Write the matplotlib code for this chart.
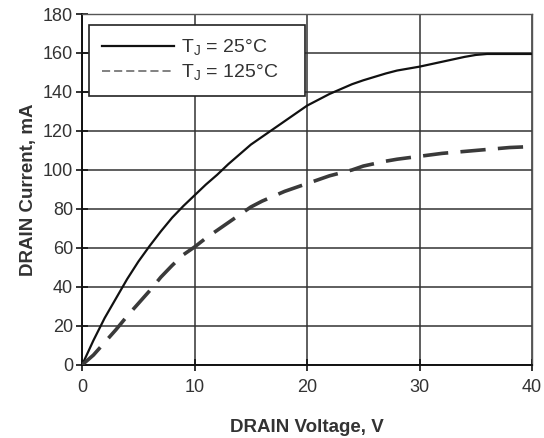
import numpy as np
import matplotlib.pyplot as plt

plt.rcParams['font.family'] = ['Liberation Sans', 'DejaVu Sans']
plt.rcParams['mathtext.fontset'] = 'custom'
plt.rcParams['mathtext.rm'] = 'Liberation Sans'

# Drain current vs drain voltage at two junction temperatures
v_25 = [0, 1, 2, 3, 4, 5, 6, 7, 8, 9, 10, 11, 12, 13, 14, 15, 17, 18, 20,
        22, 24, 25, 27, 28, 30, 32, 34, 35, 36, 38, 40]
i_25 = [0, 12.5, 24, 34, 44, 53, 61, 68.5, 75.5, 81.5, 87, 92.5, 97.5, 103, 108, 113, 121, 125, 133,
        139, 144, 146, 149.5, 151, 153, 155.5, 158, 159, 159.5, 159.5, 159.5]

v_125 = [0, 1, 2, 3, 4, 5, 6, 7, 8, 9, 10, 11, 12, 13, 14, 15, 16, 17, 18, 20,
         22, 24, 25, 27, 28, 30, 32, 34, 35, 37, 38, 40]
i_125 = [0, 5, 11.5, 18, 25, 31.5, 38, 45, 51, 56.5, 60.5, 65, 69, 73, 77, 81, 84, 86.5, 89, 93,
         97, 100, 102, 104.5, 105.5, 107, 108.5, 109.5, 110, 111, 111.5, 112]

labels = [r'T$_{\rm J}$ = 25°C', r'T$_{\rm J}$ = 125°C']
x_ticks = [0, 10, 20, 30, 40]
y_ticks = list(range(0, 181, 20))

fig = plt.figure(figsize=(5.44, 4.38), dpi=100)
ax = fig.add_axes([0.151, 0.167, 0.827, 0.801])

ax.plot(v_25, i_25, color='#111111', lw=1.6, label=labels[0], zorder=3)
ax.plot(v_125, i_125, color='#3a3a3a', lw=2.6, dashes=(7, 3.4), label=labels[1], zorder=3)

ax.set_xlim(0, 40)
ax.set_ylim(0, 180)
ax.set_xticks(x_ticks)
ax.set_yticks(y_ticks)
ax.grid(True, color='#333333', lw=1.1)
ax.set_axisbelow(True)

for side in ['top', 'right']:
    ax.spines[side].set_color('#555555')
    ax.spines[side].set_linewidth(1.0)
for side in ['left', 'bottom']:
    ax.spines[side].set_color('#111111')
    ax.spines[side].set_linewidth(1.4)

ax.tick_params(direction='inout', length=9, width=1.2, labelsize=13,
               colors='#111111', labelcolor='#333333')
ax.tick_params(axis='y', pad=2)
ax.tick_params(axis='x', pad=6)

ax.set_xlabel('DRAIN Voltage, V', fontsize=13.5, fontweight='bold', color='#333333', labelpad=16)
ax.set_ylabel('DRAIN Current, mA', fontsize=13.5, fontweight='bold', color='#333333', labelpad=4)

leg = ax.legend(loc='upper left', bbox_to_anchor=(0.016, 0.969, 0.48, 0.0), mode='expand',
                fontsize=14, handlelength=3.7, handletextpad=0.35, borderpad=0.65,
                labelspacing=0.25, fancybox=False, framealpha=1, edgecolor='#222222',
                borderaxespad=0)
leg.get_frame().set_linewidth(1.2)
for t in leg.get_texts():
    t.set_color('#333333')
# thinner, lighter handle for the dashed entry
leg.legend_handles[1].set_linewidth(1.3)
leg.legend_handles[1].set_dashes((4.5, 2.2))
leg.legend_handles[1].set_color('#777777')

fig.savefig('out.png', dpi=100)
